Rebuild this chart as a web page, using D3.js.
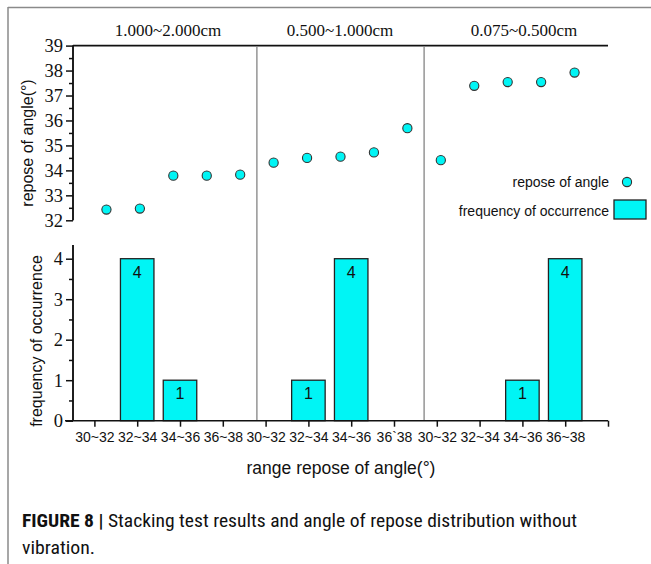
<!DOCTYPE html>
<html><head><meta charset="utf-8">
<script src="https://cdn.jsdelivr.net/npm/d3@7"></script>
<style>body{margin:0;background:#fff}svg{display:block}
.serif{font-family:"Liberation Serif","Times New Roman",serif}
.sans{font-family:"Liberation Sans",Arial,sans-serif}
</style>
</head><body>
<svg id="c" width="651" height="564"></svg>
<script>
const groups = ["1.000~2.000cm", "0.500~1.000cm", "0.075~0.500cm"];
const reposeValues = [32.43, 32.47, 33.79, 33.79, 33.83, 34.31, 34.50, 34.55, 34.72, 35.69, 34.41, 37.39, 37.54, 37.54, 37.92];
const rangeLabels = ["30~32","32~34","34~36","36~38","30~32","32~34","34~36","36`38","30~32","32~34","34~36","36~38"];
const frequency = [0,4,1,0, 0,1,4,0, 0,0,1,4];
const topTicks = [32,33,34,35,36,37,38,39];
const bottomTicks = [0,1,2,3,4];

const svg = d3.select("#c");
const cyan = "#00f5f5";
const X0 = 73, X1 = 608;

// frame
svg.append("line").attr("x1",8).attr("x2",651).attr("y1",7.5).attr("y2",7.5).attr("stroke","#8a8a8a").attr("stroke-width",1.5);
svg.append("line").attr("x1",8).attr("x2",8).attr("y1",7).attr("y2",564).attr("stroke","#8a8a8a").attr("stroke-width",1.5);

// scales
const xTop = d3.scaleLinear().domain([0,16]).range([X0,X1]);
const yTop = d3.scaleLinear().domain([32,39]).range([220.3,45.6]);
const xBot = d3.scaleLinear().domain([-0.5,12]).range([X0,X1]);
const yBot = d3.scaleLinear().domain([0,4]).range([420.7,258.7]);

// separators
[5.5,10.5].forEach(s=>{
  svg.append("line").attr("x1",xTop(s)).attr("x2",xTop(s)).attr("y1",47).attr("y2",421)
    .attr("stroke","#7a7a7a").attr("stroke-width",1.2);
});

// group labels
const gx = [168, 340, 524];
groups.forEach((g,i)=>{
  svg.append("text").attr("class","serif").attr("x",gx[i]).attr("y",36)
    .attr("text-anchor","middle").style("font-size","17px").attr("fill","#111").text(g);
});

// top frame line
svg.append("line").attr("x1",X0).attr("x2",X1).attr("y1",yTop(39)).attr("y2",yTop(39)).attr("stroke","#111").attr("stroke-width",1.6);

function styleAxis(g, top){
  g.attr("font-family",null).attr("font-size",null);
  g.selectAll("path,line").attr("stroke","#111").attr("stroke-width",1.5);
  g.select(".domain").attr("d",`M0,${top}V${g.attr("data-bot")}`);
}

// top y axis
const gTopMin = svg.append("g").attr("transform",`translate(${X0},0)`).attr("data-bot",yTop(32))
  .call(d3.axisLeft(yTop).tickValues(d3.range(32.5,39,1)).tickSize(4).tickFormat(""));
const gTopMaj = svg.append("g").attr("transform",`translate(${X0},0)`).attr("data-bot",yTop(32))
  .call(d3.axisLeft(yTop).tickValues(topTicks).tickSize(7).tickPadding(3).tickFormat(d3.format("d")));
styleAxis(gTopMin, yTop(39)); styleAxis(gTopMaj, yTop(39));
gTopMaj.selectAll("text").attr("class","serif").style("font-size","18.5px").attr("fill","#111").attr("dy","0.34em");

// bottom y axis
const gBotMin = svg.append("g").attr("transform",`translate(${X0},0)`).attr("data-bot",yBot(0))
  .call(d3.axisLeft(yBot).tickValues([0.5,1.5,2.5,3.5]).tickSize(4).tickFormat(""));
const gBotMaj = svg.append("g").attr("transform",`translate(${X0},0)`).attr("data-bot",yBot(0))
  .call(d3.axisLeft(yBot).tickValues(bottomTicks).tickSize(7).tickPadding(3).tickFormat(d3.format("d")));
styleAxis(gBotMin, 245); styleAxis(gBotMaj, 245);
gBotMaj.selectAll("text").attr("class","serif").style("font-size","18.5px").attr("fill","#111").attr("dy","0.34em");

// bars
const bw = 33.5;
const barData = frequency.map((v,i)=>({v,i})).filter(d=>d.v>0);
svg.selectAll("rect.bar").data(barData).join("rect").attr("class","bar")
  .attr("x",d=>xBot(d.i)-bw/2).attr("y",d=>yBot(d.v)).attr("width",bw).attr("height",d=>yBot(0)-yBot(d.v))
  .attr("fill",cyan).attr("stroke","#222").attr("stroke-width",1.3);
svg.selectAll("text.bl").data(barData).join("text").attr("class","bl sans")
  .attr("x",d=>xBot(d.i)).attr("y",d=>yBot(d.v)+19).attr("text-anchor","middle")
  .style("font-size","16px").attr("fill","#111").text(d=>d.v);

// bottom x axis
const gX = svg.append("g").attr("transform",`translate(0,${yBot(0)})`)
  .call(d3.axisBottom(xBot).tickValues(d3.range(0,13)).tickSize(6).tickPadding(5).tickFormat(d=>rangeLabels[d]||""));
gX.attr("font-family",null).attr("font-size",null);
gX.selectAll("path,line").attr("stroke","#111").attr("stroke-width",1.5);
gX.select(".domain").attr("d",`M65,0H${X1}`);
gX.selectAll("text").attr("class","sans").style("font-size","14px").attr("fill","#111");

// points
svg.selectAll("circle.pt").data(reposeValues).join("circle").attr("class","pt")
  .attr("cx",(d,i)=>xTop(i+1)).attr("cy",d=>yTop(d)).attr("r",4.6)
  .attr("fill",cyan).attr("stroke","#333").attr("stroke-width",1.1);

// axis titles
svg.append("text").attr("class","sans").attr("transform","translate(33,143) rotate(-90)").attr("text-anchor","middle")
  .style("font-size","16px").attr("fill","#111").text("repose of angle(°)");
svg.append("text").attr("class","sans").attr("transform","translate(42,341) rotate(-90)").attr("text-anchor","middle")
  .style("font-size","16px").attr("fill","#111").text("frequency of occurrence");
svg.append("text").attr("class","sans").attr("x",341).attr("y",474).attr("text-anchor","middle")
  .style("font-size","17.5px").attr("fill","#111").text("range repose of angle(°)");

// legend
svg.append("text").attr("class","sans").attr("x",609).attr("y",187).attr("text-anchor","end")
  .style("font-size","14px").attr("fill","#111").text("repose of angle");
svg.append("circle").attr("cx",627).attr("cy",182).attr("r",4.6).attr("fill",cyan).attr("stroke","#333").attr("stroke-width",1.1);
svg.append("text").attr("class","sans").attr("x",609).attr("y",216).attr("text-anchor","end")
  .style("font-size","14px").attr("fill","#111").text("frequency of occurrence");
svg.append("rect").attr("x",614).attr("y",200).attr("width",32).attr("height",19).attr("fill",cyan).attr("stroke","#222").attr("stroke-width",1.3);

// caption
const capFont = "'Liberation Sans Narrow','Roboto Condensed','Liberation Sans',sans-serif";
const cap = svg.append("text").attr("x",22).attr("y",527)
  .style("font-family",capFont).style("font-size","18.5px").attr("fill","#111")
  .attr("textLength",555).attr("lengthAdjust","spacingAndGlyphs");
cap.append("tspan").attr("font-weight","bold").text("FIGURE 8 | ");
cap.append("tspan").text("Stacking test results and angle of repose distribution without");
svg.append("text").attr("x",22).attr("y",554)
  .style("font-family",capFont).style("font-size","18.5px").attr("fill","#111")
  .attr("textLength",73).attr("lengthAdjust","spacingAndGlyphs").text("vibration.");
</script>
</body></html>
